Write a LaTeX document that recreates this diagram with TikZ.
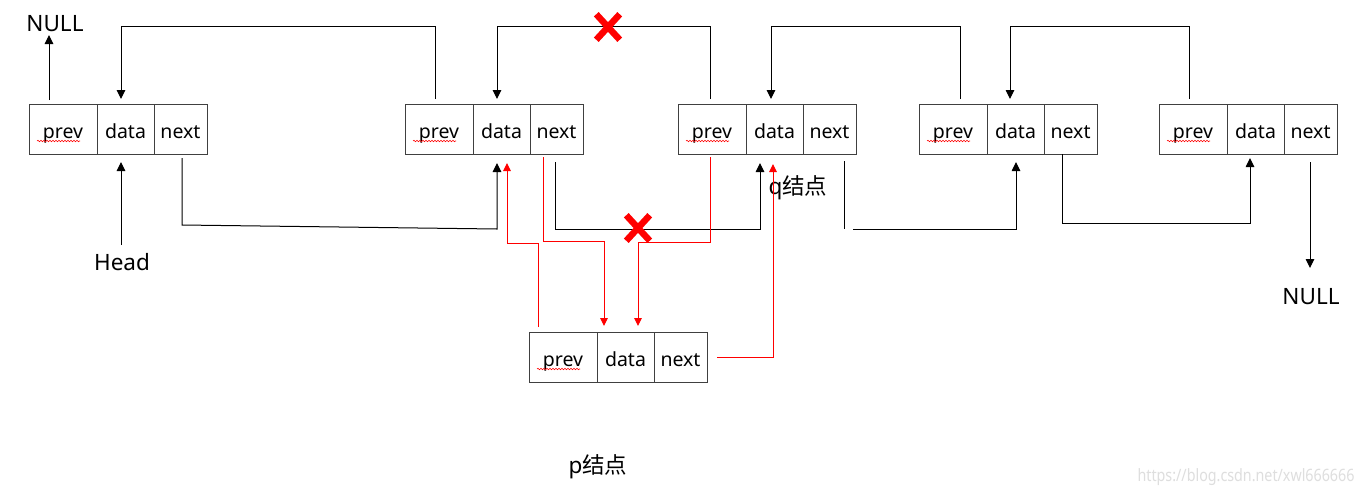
\documentclass[tikz,border=0pt]{standalone}
\usepackage{fontspec}
\setmainfont{Noto Sans}
\newfontfamily\cjkfont{Noto Sans CJK SC}
\usetikzlibrary{arrows.meta,calc,shapes.misc,decorations.pathmorphing}
\newcommand\listnode[3]{%
  \node[pcell] (#1p) at (#2,#3) {prev\hspace{9pt}};
  \node[dcell] (#1d) at (#1p.north east) {data};
  \node[ncell] (#1n) at (#1d.north east) {next};
  \draw[squig] ($(#1p.north west)+(8,37)$) -- ($(#1p.north west)+(51,37)$);
}
\begin{document}
\begin{tikzpicture}[x=1pt,y=-1pt,
  cell/.style={draw=black!75,line width=1pt,minimum height=50pt,inner sep=0pt,outer sep=0pt,anchor=north west,text height=18pt,text depth=0pt,font=\fontsize{19.5}{24}\selectfont},
  pcell/.style={cell,minimum width=68pt},
  dcell/.style={cell,minimum width=57pt},
  ncell/.style={cell,minimum width=53pt},
  link/.style={line width=1pt,-{Triangle[length=9pt,width=8.5pt]}},
  plain/.style={line width=1pt},
  rlink/.style={line width=1pt,red,-{Triangle[length=8pt,width=7.5pt]}},
  squig/.style={red,line width=0.6pt,decorate,decoration={snake,segment length=3pt,amplitude=0.7pt}},
  xmark/.style={cross out,draw=red,line width=6.5pt,minimum width=17pt,minimum height=19pt,inner sep=0pt},
  lbl/.style={font=\fontsize{22.5}{27}\selectfont,inner sep=0pt},
]
\fill[white] (0,0) rectangle (1367,496);
\useasboundingbox (0,0) rectangle (1367,496);

\listnode{a}{29}{104}
\listnode{b}{405}{104}
\listnode{c}{678}{104}
\listnode{d}{919}{104}
\listnode{e}{1159}{104}
\listnode{p}{529}{332}

\node[lbl] (null1) at (55,24) {NULL};
\node[lbl] (head) at (122,262) {Head};
\node[lbl] (qlbl) at (798,188) {q{\cjkfont 结点}};
\node[lbl] (plbl) at (598,467) {p{\cjkfont 结点}};
\node[lbl] (null2) at (1311,297) {NULL};
\node[font=\fontsize{17}{20}\selectfont,text=black!13,inner sep=0pt] (wm) at (1246,477) {\scalebox{0.84}[1]{https://blog.csdn.net/xwl666666}};

% black links
\draw[link] ($(ap.north west)+(20,-4)$) -- ($(ap.north west)+(20,-69)$);
\draw[link] ($(bp.north west)+(30,-5)$) -- ++(0,-73) -| ($(ap.north west)+(92,-5)$);
\draw[link] ($(ap.south west)+(92,91)$) -- ($(ap.south west)+(92,8)$);
\draw[link] ($(ap.south west)+(153,4)$) -- ++(0,67) -- ($(bp.south west)+(92,75)$) -- ($(bp.south west)+(92,9)$);
\draw[link] ($(cp.north west)+(32,-5)$) -- ++(0,-73) -| ($(bp.north west)+(92,-5)$);
\draw[link] ($(bp.south west)+(150,8)$) -- ++(0,67) -| ($(cp.south west)+(82,9)$);
\draw[link] ($(dp.north west)+(41,-5)$) -- ++(0,-73) -| ($(cp.north west)+(93,-5)$);
\draw[plain] ($(cp.south west)+(166,7)$) -- ++(0,68);
\draw[link] ($(dp.south west)+(-66,75)$) -| ($(dp.south west)+(97,8)$);
\draw[link] ($(ep.north west)+(30,-5)$) -- ++(0,-73) -| ($(dp.north west)+(91,-5)$);
\draw[link] ($(dp.south west)+(143,0)$) -- ++(0,69) -| ($(ep.south west)+(91,4)$);
\draw[link] ($(ep.south west)+(151,8)$) -- ++(0,106);

% red links
\draw[rlink] ($(pp.north west)+(9,-5)$) -- ++(0,-84) -| ($(bp.south west)+(102,9)$);
\draw[rlink] ($(bp.south west)+(138,3)$) -- ++(0,84) -| ($(pp.north west)+(75,-6)$);
\draw[rlink] ($(cp.south west)+(32,3)$) -- ++(0,85) -| ($(pp.north west)+(109,-6)$);
\draw[rlink] ($(pp.north west)+(188,25)$) -| ($(cp.south west)+(95,10)$);

\node[xmark] (x1) at (608,27) {};
\node[xmark] (x2) at (638,228) {};
\end{tikzpicture}
\end{document}
